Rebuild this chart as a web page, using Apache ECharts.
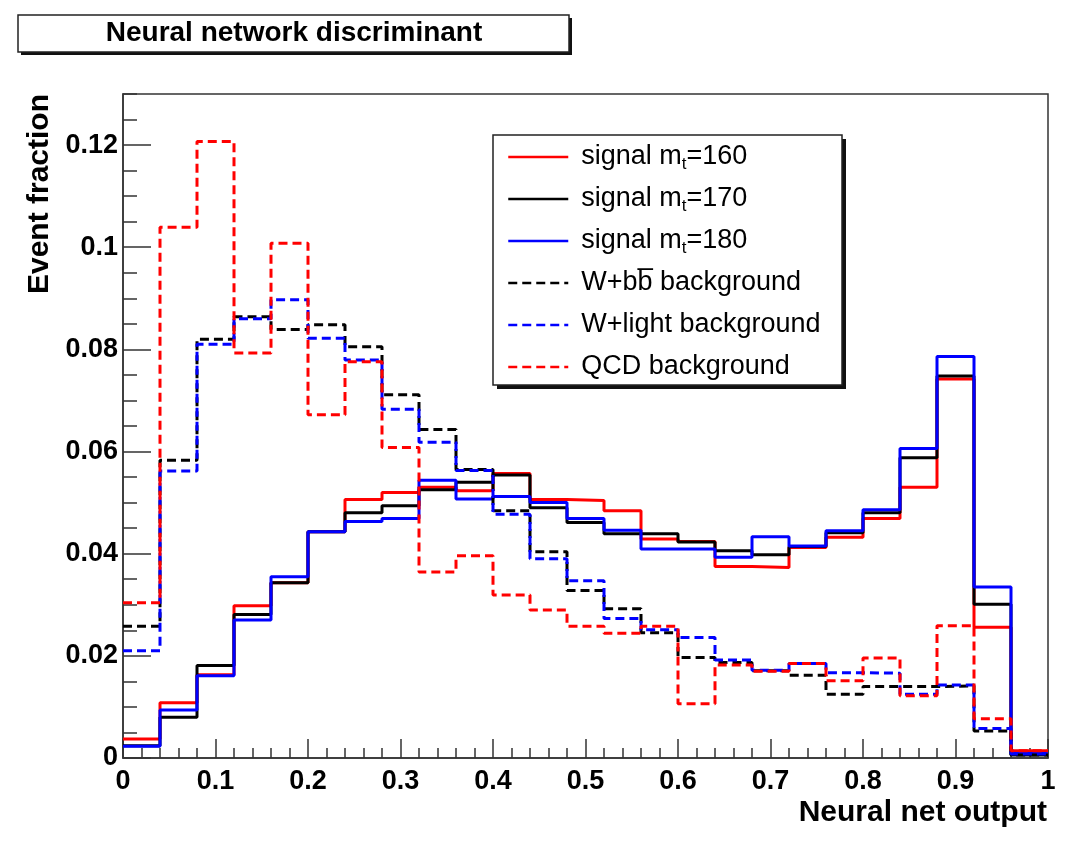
<!DOCTYPE html>
<html>
<head>
<meta charset="utf-8">
<title>Neural network discriminant</title>
<script src="https://cdn.jsdelivr.net/npm/echarts@6/dist/echarts.min.js"></script>
<style>
  html, body { margin: 0; padding: 0; background: #ffffff; }
  #chart { width: 1066px; height: 841px; }
</style>
</head>
<body>
<div id="chart"></div>
<script>
// Bin edges of the neural net output histograms (25 bins on [0, 1])
const binEdges = [0, 0.04, 0.08, 0.12, 0.16, 0.2, 0.24, 0.28, 0.32, 0.36, 0.4, 0.44, 0.48,
  0.52, 0.56, 0.6, 0.64, 0.68, 0.72, 0.76, 0.8, 0.84, 0.88, 0.92, 0.96, 1.0];

// Event fraction per bin
const signal160 = [0.0037, 0.0108, 0.0163, 0.0298, 0.0343, 0.0443, 0.0506, 0.0520, 0.0530, 0.0523,
  0.0557, 0.0506, 0.0504, 0.0484, 0.0429, 0.0424, 0.0375, 0.0373, 0.0412, 0.0432,
  0.0469, 0.0530, 0.0742, 0.0256, 0.0014];
const signal170 = [0.0024, 0.0080, 0.0181, 0.0281, 0.0343, 0.0443, 0.0480, 0.0494, 0.0525, 0.0540,
  0.0554, 0.0490, 0.0461, 0.0439, 0.0439, 0.0423, 0.0406, 0.0398, 0.0414, 0.0441,
  0.0480, 0.0588, 0.0748, 0.0301, 0.0006];
const signal180 = [0.0023, 0.0094, 0.0161, 0.0270, 0.0355, 0.0443, 0.0463, 0.0469, 0.0544, 0.0507,
  0.0512, 0.0500, 0.0469, 0.0446, 0.0409, 0.0409, 0.0393, 0.0433, 0.0415, 0.0445,
  0.0486, 0.0606, 0.0786, 0.0335, 0.0009];
const wbbBackground = [0.0258, 0.0583, 0.0820, 0.0864, 0.0839, 0.0848, 0.0805, 0.0711, 0.0643, 0.0565,
  0.0484, 0.0404, 0.0328, 0.0292, 0.0245, 0.0197, 0.0187, 0.0171, 0.0162, 0.0125,
  0.0140, 0.0140, 0.0141, 0.0053, 0.0006];
const wlightBackground = [0.0210, 0.0562, 0.0810, 0.0860, 0.0897, 0.0822, 0.0779, 0.0683, 0.0618, 0.0563,
  0.0477, 0.0390, 0.0347, 0.0273, 0.0251, 0.0236, 0.0192, 0.0172, 0.0185, 0.0167,
  0.0166, 0.0125, 0.0143, 0.0058, 0.0008];
const qcdBackground = [0.0304, 0.1039, 0.1207, 0.0793, 0.1008, 0.0672, 0.0776, 0.0608, 0.0364, 0.0396,
  0.0319, 0.0290, 0.0258, 0.0244, 0.0258, 0.0106, 0.0182, 0.0170, 0.0185, 0.0151,
  0.0196, 0.0122, 0.0259, 0.0077, 0.0014];

// Axis ticks
const xTickInterval = 0.1;
const yTickInterval = 0.02;
const yMinorInterval = 0.005;
const yMax = 0.13;

const FONT = '"Liberation Sans", Arial, Helvetica, sans-serif';

// Step outline: one point per bin low edge, plus the closing upper edge
function histData(vals) {
  const d = vals.map((v, i) => [binEdges[i], v]);
  d.push([binEdges[vals.length], vals[vals.length - 1]]);
  return d;
}

const seriesDefs = [
  { name: 'sig160', label: '{a|signal m}{s|t}{a|=160}', values: signal160, color: '#ff0000', dashed: false },
  { name: 'sig170', label: '{a|signal m}{s|t}{a|=170}', values: signal170, color: '#000000', dashed: false },
  { name: 'sig180', label: '{a|signal m}{s|t}{a|=180}', values: signal180, color: '#0000ff', dashed: false },
  { name: 'wbb', label: '{a|W+bb\u0305 background}', values: wbbBackground, color: '#000000', dashed: true },
  { name: 'wlight', label: '{a|W+light background}', values: wlightBackground, color: '#0000ff', dashed: true },
  { name: 'qcd', label: '{a|QCD background}', values: qcdBackground, color: '#ff0000', dashed: true }
];
const labelByName = {};
seriesDefs.forEach(s => { labelByName[s.name] = s.label; });

const chart = echarts.init(document.getElementById('chart'), null, { renderer: 'canvas' });

const axisColor = '#333333';

// Framed box with a solid drop shadow (title pave and legend pave)
function paveBox(x, y, w, h, off) {
  return [
    { type: 'rect', z: 3, shape: { x: x + off, y: y + off, width: w, height: h },
      style: { fill: '#111111', stroke: null } },
    { type: 'rect', z: 3, shape: { x: x, y: y, width: w, height: h },
      style: { fill: '#ffffff', stroke: '#222222', lineWidth: 1.5 } }
  ];
}

chart.setOption({
  animation: false,
  backgroundColor: '#ffffff',
  grid: {
    left: 123, right: 18, top: 94, bottom: 83,
    show: true, borderColor: axisColor, borderWidth: 1.5, backgroundColor: 'transparent'
  },
  xAxis: {
    type: 'value', min: 0, max: 1, interval: xTickInterval,
    axisLine: { show: true, lineStyle: { color: axisColor, width: 1.5 } },
    axisTick: { show: true, inside: true, length: 19, lineStyle: { color: axisColor, width: 1.5 } },
    minorTick: { show: true, splitNumber: 5, length: 10, lineStyle: { color: axisColor, width: 1.5 } },
    splitLine: { show: false },
    axisLabel: { margin: 10, color: '#000', fontFamily: FONT, fontWeight: 'bold', fontSize: 27 }
  },
  yAxis: [
    {
      type: 'value', min: 0, max: yMax, interval: yTickInterval,
      axisLine: { show: true, lineStyle: { color: axisColor, width: 1.5 } },
      axisTick: { show: true, inside: true, length: 28, lineStyle: { color: axisColor, width: 1.5 } },
      splitLine: { show: false },
      axisLabel: { margin: 5, showMaxLabel: false, color: '#000', fontFamily: FONT, fontWeight: 'bold', fontSize: 27 }
    },
    {
      type: 'value', min: 0, max: yMax, interval: yMinorInterval, position: 'left',
      axisLine: { show: false },
      axisTick: { show: true, inside: true, length: 14, lineStyle: { color: axisColor, width: 1.5 } },
      splitLine: { show: false },
      axisLabel: { show: false }
    }
  ],
  legend: {
    orient: 'vertical', left: 493, top: 141, z: 5,
    itemWidth: 60, itemHeight: 20, itemGap: 10,
    padding: [0, 20, 0, 14],
    selectedMode: false,
    data: seriesDefs.map(s => s.name),
    formatter: name => labelByName[name],
    itemStyle: { opacity: 0 },
    lineStyle: { width: 2.5 },
    textStyle: {
      color: '#000', fontFamily: FONT, fontSize: 27, padding: [0, 0, 0, 8],
      height: 32, lineHeight: 32,
      rich: {
        a: { fontFamily: FONT, fontSize: 27, lineHeight: 32, height: 32, color: '#000' },
        s: { fontFamily: FONT, fontSize: 17, lineHeight: 17, verticalAlign: 'bottom', color: '#000' }
      }
    }
  },
  graphic: [
    ...paveBox(18, 15, 551, 37, 3),
    {
      type: 'text', z: 4, x: 294, y: 33,
      style: { text: 'Neural network discriminant', fontFamily: FONT, fontWeight: 'bold', fontSize: 28,
        align: 'center', verticalAlign: 'middle', fill: '#000' }
    },
    ...paveBox(493, 135, 349, 250, 4),
    {
      type: 'text', z: 4, x: 40, y: 94, rotation: Math.PI / 2,
      style: { text: 'Event fraction', fontFamily: FONT, fontWeight: 'bold', fontSize: 30,
        align: 'right', verticalAlign: 'middle', fill: '#000' }
    },
    {
      type: 'text', z: 4, x: 1047, y: 813,
      style: { text: 'Neural net output', fontFamily: FONT, fontWeight: 'bold', fontSize: 30,
        align: 'right', verticalAlign: 'middle', fill: '#000' }
    }
  ],
  series: seriesDefs.map((s, i) => ({
    type: 'line', name: s.name, step: 'end', symbol: 'none', showSymbol: false,
    xAxisIndex: 0, yAxisIndex: 0, z: 2,
    data: histData(s.values),
    itemStyle: { color: s.color },
    lineStyle: { color: s.color, width: 3, type: s.dashed ? [9, 5] : 'solid' },
    emphasis: { disabled: true }
  }))
});
</script>
</body>
</html>
